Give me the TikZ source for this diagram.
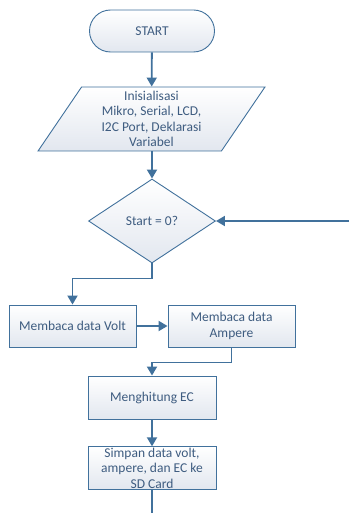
\documentclass[tikz,border=0pt]{standalone}
\usepackage{fontspec}
\setmainfont{Carlito}
\usepackage{tikz}
\usetikzlibrary{shapes.geometric,shapes.misc,arrows.meta}

\definecolor{lineblue}{RGB}{65,113,156}
\definecolor{textblue}{RGB}{62,92,128}
\definecolor{fillgray}{RGB}{226,231,239}

\begin{document}
\begin{tikzpicture}
            [x=1pt,y=1pt,thick,
             every node/.style={draw=lineblue,line width=0.9pt,text=textblue,align=center,
               top color=white,bottom color=fillgray,font=\fontsize{13.5}{15.5}\selectfont,inner sep=1pt},
             box/.style={rectangle,minimum width=127pt,minimum height=42pt},
             flow/.style={draw=lineblue,line width=1.8pt,-{Triangle[width=10pt,length=9pt]}}]
            \useasboundingbox (0,0) rectangle (349,-513);
            \node[rounded rectangle,minimum width=127pt,minimum height=42pt] (start) at (152,-31) {START};
            \node[trapezium,trapezium left angle=61.3,trapezium right angle=118.7,trapezium stretches=true,
                  minimum width=227pt,minimum height=64pt] (init) at (151.5,-119)
                  {Inisialisasi\\Mikro, Serial, LCD,\\I2C Port, Deklarasi\\Variabel};
            \node[diamond,minimum width=127pt,minimum height=84pt,inner sep=0pt,aspect=1.5] (cek) at (152,-221) {Start = 0?};
            \node[box] (volt) at (72.5,-326) {Membaca data Volt};
            \node[box] (amp) at (231.5,-326) {Membaca data\\Ampere};
            \node[box,minimum width=128pt,minimum height=43pt] (ec) at (152,-397.5) {Menghitung EC};
            \node[box,minimum width=128pt,minimum height=42pt] (simpan) at (152,-468) {Simpan data volt,\\ampere, dan EC ke\\SD Card};
            \coordinate (loop) at (349,-221);
            \coordinate (akhir) at (152,-513);

            \draw[flow] (start) -- (init);
            \draw[flow] (init.south -| start) -- (cek.north);
            \draw[flow] (loop) -- (cek.east);
            \draw[flow] (cek.south) -- ++(0,-15) -| (volt.north);
            \draw[flow] (volt) -- (amp);
            \draw[flow] (amp.south) -- ++(0,-15) -| (ec.north);
            \draw[flow] (ec) -- (simpan);
            \draw[draw=lineblue,line width=1.8pt] (simpan) -- (akhir);

        \end{tikzpicture}
\end{document}
